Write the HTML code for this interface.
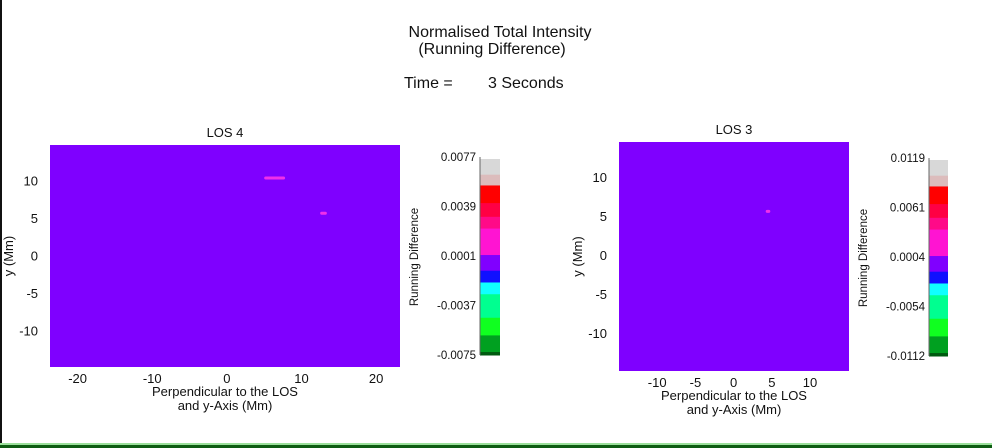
<!DOCTYPE html>
<html><head><meta charset="utf-8"><style>
body{margin:0;background:#fff;}
svg{display:block;font-family:"Liberation Sans",Arial,sans-serif;}
</style></head><body>
<svg id="c" width="992" height="448" viewBox="0 0 992 448" xmlns="http://www.w3.org/2000/svg">
<rect x="0" y="0" width="2" height="443" fill="#111"/>
<rect x="0" y="443" width="992" height="2" fill="#9be09b"/>
<rect x="0" y="445" width="992" height="3" fill="#0d5c12"/>
<text x="500" y="37" font-size="16" text-anchor="middle" fill="#111">Normalised Total Intensity</text>
<text x="492" y="54" font-size="16" text-anchor="middle" fill="#111">(Running Difference)</text>
<text x="404" y="88" font-size="16" fill="#111">Time =</text>
<text x="488" y="88" font-size="16" fill="#111">3 Seconds</text>
<g id="g"></g>
</svg>
<script>
const panelTitles=["LOS 4","LOS 3"];
const xTicks1=[-20,-10,0,10,20];
const xTicks2=[-10,-5,0,5,10];
const yTicks=[10,5,0,-5,-10];
const xRange1=[-23.7,23.2], yRange1=[-14.9,14.7];
const xRange2=[-15,15.1], yRange2=[-14.9,14.5];
const features1X=[[5,7.8],[12.5,13.4]];
const features1Y=[10.3,5.6];
const features2X=[[4.2,4.8]];
const features2Y=[5.6];
const cbTicks1=["0.0077","0.0039","0.0001","-0.0037","-0.0075"];
const cbTicks2=["0.0119","0.0061","0.0004","-0.0054","-0.0112"];
const cbStops=[0,0.08,0.135,0.225,0.295,0.355,0.49,0.57,0.63,0.69,0.81,0.9,0.985,1];
const cbColors=["#d8d8d8","#dcbcbc","#ff0000","#ff0044","#ff0a88","#ff14d2","#8000ff","#1010ff","#10ffff","#00ff90","#10ff20","#00a020","#005a10"];
const NS="http://www.w3.org/2000/svg";
const G=document.getElementById('g');
function mk(t,a,txt){const e=document.createElementNS(NS,t);for(const k in a)e.setAttribute(k,a[k]);if(txt!==undefined)e.textContent=txt;G.appendChild(e);return e;}
function panel(p){
  const sx=v=>p.x0+(v-p.xr[0])/(p.xr[1]-p.xr[0])*(p.x1-p.x0);
  const sy=v=>p.y1-(v-p.yr[0])/(p.yr[1]-p.yr[0])*(p.y1-p.y0);
  let e=mk('rect',{x:p.x0,y:p.y0,width:p.x1-p.x0,height:p.y1-p.y0,fill:'#7f00ff'});
  
  
  p.fx.forEach((r,i)=>{const f=mk('rect',{x:sx(r[0]),y:sy(p.fy[i])-1.5,width:sx(r[1])-sx(r[0]),height:3,fill:'#f030e8',rx:1.5});
    
    });
  e=mk('text',{x:(p.x0+p.x1)/2,y:p.y0-8,'font-size':13,'text-anchor':'middle',fill:'#111'},p.title);
  
  
  p.xt.forEach(v=>{const t=mk('text',{x:sx(v),y:p.y1+16,'font-size':13,'text-anchor':'middle',fill:'#111'},String(v));
    
    });
  yTicks.forEach(v=>{const t=mk('text',{x:p.x0-12,y:sy(v)+5,'font-size':13,'text-anchor':'end',fill:'#111'},String(v));
    
    });
  const cx=(p.x0+p.x1)/2;
  e=mk('text',{x:cx,y:p.y1+29,'font-size':13,'text-anchor':'middle',fill:'#111'},'Perpendicular to the LOS');
  
  
  e=mk('text',{x:cx,y:p.y1+43,'font-size':13,'text-anchor':'middle',fill:'#111'},'and y-Axis (Mm)');
  
  
  e=mk('text',{x:p.yl,y:(p.y0+p.y1)/2,'font-size':13,'text-anchor':'middle',fill:'#111',transform:`rotate(-90 ${p.yl} ${(p.y0+p.y1)/2})`},'y (Mm)');
  
  
  const ch=p.cb1-p.cb0;
  cbColors.forEach((c,i)=>{const r=mk('rect',{x:p.cbx,y:p.cb0+cbStops[i]*ch,width:p.cbw,height:(cbStops[i+1]-cbStops[i])*ch+0.5,fill:c});
    
    });
  mk('line',{x1:p.cbx,y1:p.cb0-2,x2:p.cbx,y2:p.cb1,stroke:'#666','stroke-width':1});
  p.cbt.forEach((s,i)=>{const t=mk('text',{x:p.cbx-4,y:p.cb0-2+i*(ch+2)/4+4,'font-size':11.5,'text-anchor':'end',fill:'#111'},s);
    
    });
  const my=(p.cb0+p.cb1)/2, lx=p.cbx-62;
  e=mk('text',{x:lx,y:my,'font-size':11.5,'text-anchor':'middle',fill:'#111',transform:`rotate(-90 ${lx} ${my})`},'Running Difference');
  
  
}
panel({id:'los4',title:panelTitles[0],x0:50,x1:400,y0:145,y1:367,xr:xRange1,yr:yRange1,xt:xTicks1,fx:features1X,fy:features1Y,yl:13,cbx:480,cbw:20,cb0:159,cb1:355,cbt:cbTicks1});
panel({id:'los3',title:panelTitles[1],x0:619,x1:849,y0:142,y1:371,xr:xRange2,yr:yRange2,xt:xTicks2,fx:features2X,fy:features2Y,yl:582,cbx:929,cbw:19,cb0:160,cb1:356,cbt:cbTicks2});
</script>
</body></html>
